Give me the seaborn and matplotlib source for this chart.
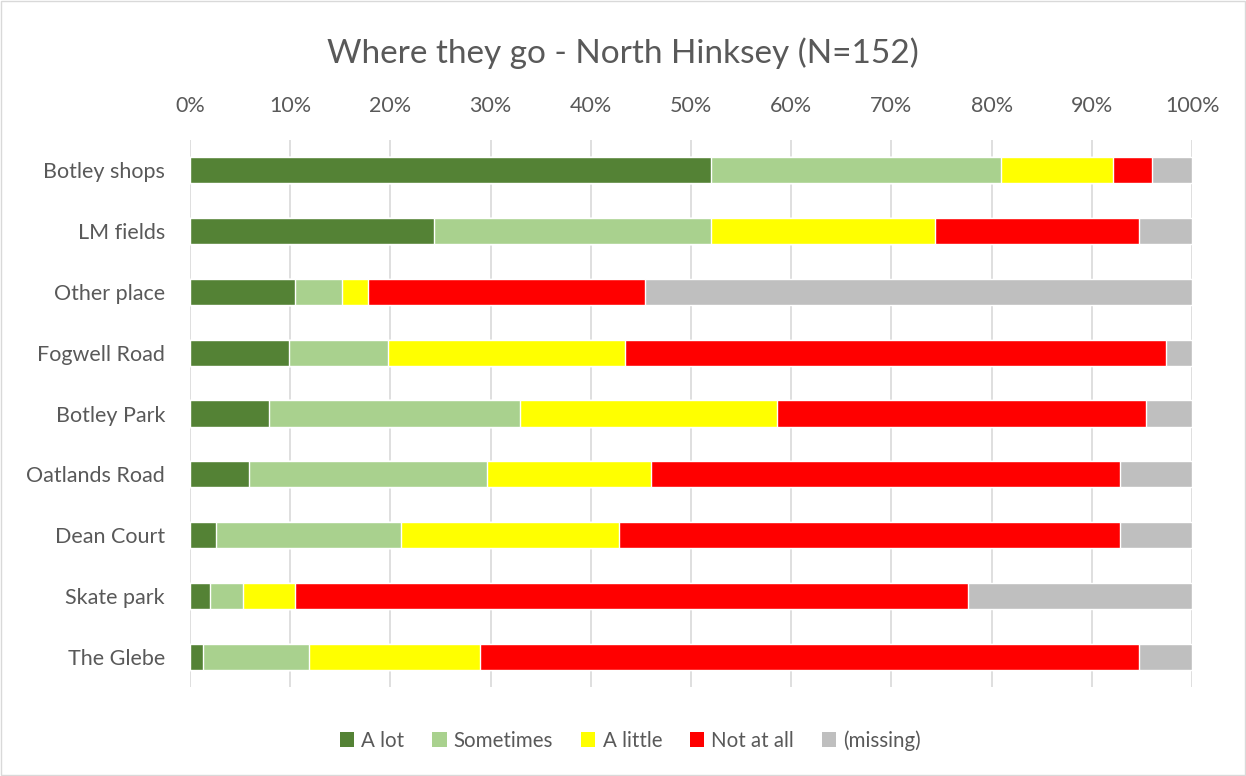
import pandas as pd
import seaborn as sns
import matplotlib.pyplot as plt
from matplotlib.patches import Patch, Rectangle
from matplotlib.ticker import PercentFormatter

N = 152
places = ['Botley shops', 'LM fields', 'Other place', 'Fogwell Road', 'Botley Park',
          'Oatlands Road', 'Dean Court', 'Skate park', 'The Glebe']

# respondent counts per answer
a_lot = [79, 37, 16, 15, 12, 9, 4, 3, 2]
sometimes = [44, 42, 7, 15, 38, 36, 28, 5, 16]
a_little = [17, 34, 4, 36, 39, 25, 33, 8, 26]
not_at_all = [6, 31, 42, 82, 56, 71, 76, 102, 100]
missing = [6, 8, 83, 4, 7, 11, 11, 34, 8]

labels = ['A lot', 'Sometimes', 'A little', 'Not at all', '(missing)']
colors = ['#548235', '#A9D18E', '#FFFF00', '#FF0000', '#BFBFBF']
text_col = '#595959'

df = pd.DataFrame({'place': places, 'A lot': a_lot, 'Sometimes': sometimes,
                   'A little': a_little, 'Not at all': not_at_all, '(missing)': missing})
cum = df[labels].cumsum(axis=1) / N * 100
cum['place'] = df['place']

sns.set_style('white')
plt.rcParams['font.family'] = ['Lato', 'DejaVu Sans']

fig = plt.figure(figsize=(12.46, 7.76), dpi=100)
ax = fig.add_axes([0.1525, 0.1142, 0.8042, 0.7058])

# stacked bars: draw the cumulative totals from the longest to the shortest
for lab, col in reversed(list(zip(labels, colors))):
    sns.barplot(data=cum, x=lab, y='place', orient='h', color=col, saturation=1,
                width=0.43, ax=ax, order=places)

ax.set_xlim(0, 100)
ax.set_xticks(range(0, 101, 10))
ax.xaxis.set_major_formatter(PercentFormatter(decimals=0))
ax.xaxis.tick_top()
ax.tick_params(axis='both', length=0, labelsize=15.5, labelcolor=text_col)
ax.tick_params(axis='x', pad=17)
ax.tick_params(axis='y', pad=18)
ax.set_xlabel('')
ax.set_ylabel('')
ax.grid(axis='x', color='#D9D9D9', lw=1.2)
ax.set_axisbelow(True)
for s in ax.spines.values():
    s.set_visible(False)

fig.text(0.5, 0.932, 'Where they go - North Hinksey (N=152)', ha='center', va='center',
         fontsize=24, color=text_col)

handles = [Patch(facecolor=c, edgecolor='none', label=l) for l, c in zip(labels, colors)]
fig.legend(handles=handles, loc='center', bbox_to_anchor=(0.506, 0.046), ncol=5, frameon=False,
           fontsize=14.8, labelcolor=text_col, handlelength=0.7, handleheight=0.7,
           handletextpad=0.35, columnspacing=1.35)

fig.add_artist(Rectangle((0.001, 0.001), 0.998, 0.998, transform=fig.transFigure,
                         fill=False, edgecolor='#D9D9D9', lw=1))

fig.savefig('out.png', dpi=100)
